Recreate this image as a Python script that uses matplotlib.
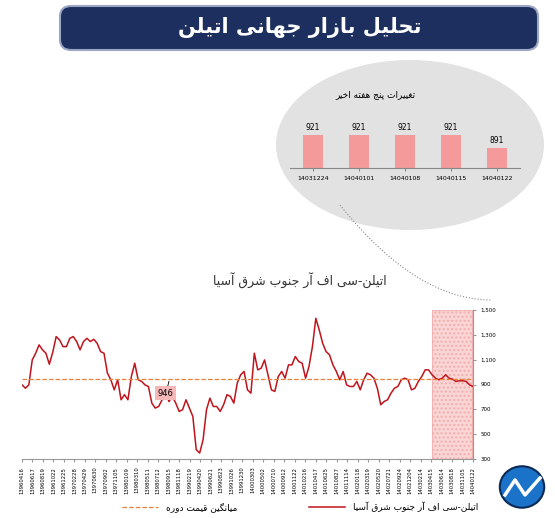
import matplotlib.pyplot as plt
import numpy as np
from matplotlib.patches import FancyBboxPatch, Circle, Ellipse

plt.rcParams['font.family'] = ['DejaVu Sans', 'Noto Sans']

# ---- minimal Persian shaping (matplotlib does not join Arabic letters) ----
FORMS = {  # isolated, final, initial, medial
    'ا': (0xFE8D, 0xFE8E), 'آ': (0xFE81, 0xFE82), 'د': (0xFEA9, 0xFEAA),
    'ذ': (0xFEAB, 0xFEAC), 'ر': (0xFEAD, 0xFEAE), 'ز': (0xFEAF, 0xFEB0),
    'و': (0xFEED, 0xFEEE), 'ژ': (0xFB8A, 0xFB8B),
    'ب': (0xFE8F, 0xFE90, 0xFE91, 0xFE92), 'ت': (0xFE95, 0xFE96, 0xFE97, 0xFE98),
    'ج': (0xFE9D, 0xFE9E, 0xFE9F, 0xFEA0), 'ح': (0xFEA1, 0xFEA2, 0xFEA3, 0xFEA4),
    'خ': (0xFEA5, 0xFEA6, 0xFEA7, 0xFEA8), 'س': (0xFEB1, 0xFEB2, 0xFEB3, 0xFEB4),
    'ش': (0xFEB5, 0xFEB6, 0xFEB7, 0xFEB8), 'ع': (0xFEC9, 0xFECA, 0xFECB, 0xFECC),
    'غ': (0xFECD, 0xFECE, 0xFECF, 0xFED0), 'ف': (0xFED1, 0xFED2, 0xFED3, 0xFED4),
    'ق': (0xFED5, 0xFED6, 0xFED7, 0xFED8), 'ل': (0xFEDD, 0xFEDE, 0xFEDF, 0xFEE0),
    'م': (0xFEE1, 0xFEE2, 0xFEE3, 0xFEE4), 'ن': (0xFEE5, 0xFEE6, 0xFEE7, 0xFEE8),
    'ه': (0xFEE9, 0xFEEA, 0xFEEB, 0xFEEC), 'پ': (0xFB56, 0xFB57, 0xFB58, 0xFB59),
    'چ': (0xFB7A, 0xFB7B, 0xFB7C, 0xFB7D), 'ک': (0xFB8E, 0xFB8F, 0xFB90, 0xFB91),
    'گ': (0xFB92, 0xFB93, 0xFB94, 0xFB95), 'ی': (0xFBFC, 0xFBFD, 0xFBFE, 0xFBFF),
}


def fa(s):
    out = []
    for i, c in enumerate(s):
        if c not in FORMS:
            out.append(c)
            continue
        prev = s[i - 1] if i > 0 else ''
        nxt = s[i + 1] if i + 1 < len(s) else ''
        jp = prev in FORMS and len(FORMS[prev]) == 4
        jn = len(FORMS[c]) == 4 and nxt in FORMS
        f = FORMS[c]
        if jp and jn:
            code = f[3]
        elif jp:
            code = f[1]
        elif jn:
            code = f[2]
        else:
            code = f[0]
        out.append(chr(code))
    return ''.join(out)[::-1]


# ---- data ----
prices = [897, 870, 897, 1098, 1152, 1219, 1179, 1152, 1063, 1160, 1286, 1259, 1205, 1205,
          1272, 1286, 1246, 1179, 1246, 1272, 1246, 1264, 1232, 1165, 1152, 991, 938, 857,
          938, 777, 818, 777, 964, 1071, 938, 925, 897, 884, 750, 710, 723, 777, 844, 763,
          804, 750, 683, 697, 777, 710, 643, 375, 348, 455, 697, 790, 723, 723, 683, 737,
          818, 804, 750, 911, 978, 1005, 857, 830, 1152, 1018, 1031, 1098, 978, 857, 844,
          964, 1005, 951, 1058, 1058, 1125, 1085, 1071, 951, 1045, 1205, 1433, 1339, 1232,
          1165, 1139, 1058, 1005, 938, 1005, 897, 884, 884, 925, 857, 938, 991, 978, 951,
          870, 737, 763, 777, 830, 870, 884, 938, 951, 938, 857, 870, 925, 964, 1018, 1018,
          978, 951, 938, 951, 978, 951, 943, 925, 930, 930, 925, 897, 884]
avg_price = 946

date_labels = ['13960416', '13960617', '13960819', '13961022', '13961225', '13970228',
               '13970429', '13970630', '13970902', '13971105', '13980109', '13980310',
               '13980511', '13980712', '13980915', '13981118', '13990219', '13990420',
               '13990621', '13990823', '13991026', '13991230', '14000303', '14000502',
               '14000710', '14000912', '14001122', '14010216', '14010417', '14010625',
               '14010827', '14011114', '14020118', '14020319', '14020520', '14020721',
               '14020924', '14021204', '14030214', '14030415', '14030614', '14030818',
               '14031105', '14040122']

week_dates = ['14031224', '14040101', '14040108', '14040115', '14040122']
week_prices = [921, 921, 921, 921, 891]

red = '#c0141c'
orange = '#e8803a'
navy = '#1d2f5e'

fig = plt.figure(figsize=(5.55, 5.18), dpi=100)

# ---- title banner ----
fig.patches.append(FancyBboxPatch((60 / 555, 1 - 50 / 518), 478 / 555, 44 / 518,
                                  boxstyle='round,pad=0,rounding_size=0.02',
                                  transform=fig.transFigure, facecolor=navy,
                                  edgecolor='#9aa6c4', linewidth=1.5))
fig.text(300 / 555, 1 - 27 / 518, fa('تحلیل بازار جهانی اتیلن'), color='white',
         fontsize=15, fontweight='bold', ha='center', va='center')

# ---- grey bubble with last five weeks ----
fig.patches.append(Ellipse((410 / 555, 1 - 145 / 518), 268 / 555, 170 / 518,
                           transform=fig.transFigure, facecolor='#e2e2e2',
                           edgecolor='none', zorder=0))
fig.text(375 / 555, 1 - 95 / 518, fa('تغییرات پنج هفته اخیر'), fontsize=6.5,
         ha='center', va='center')
bx = fig.add_axes([290 / 555, 1 - 168 / 518, 230 / 555, 50 / 518], zorder=3)
bx.patch.set_alpha(0)
pos = np.arange(len(week_prices))
bx.bar(pos, week_prices, width=0.45, color='#f49a9a')
for p, v in zip(pos, week_prices):
    bx.text(p, v + 6, str(v), ha='center', va='bottom', fontsize=5.5)
bx.set_ylim(845, 960)
bx.set_xlim(-0.5, len(week_prices) - 0.5)
bx.set_xticks(pos)
bx.set_xticklabels(week_dates, fontsize=4.5)
bx.set_yticks([])
for side in ['left', 'right', 'top']:
    bx.spines[side].set_visible(False)
bx.spines['bottom'].set_color('#888888')
bx.tick_params(axis='x', length=2, color='#888888', pad=4)

# ---- main chart ----
ax = fig.add_axes([22 / 555, 1 - 459 / 518, 451 / 555, 149 / 518])
x = np.arange(len(prices))
ax.plot(x, prices, color=red, linewidth=1.1, label=fa('اتیلن-سی اف آر جنوب شرق آسیا'))
ax.axhline(avg_price, color=orange, linestyle='--', linewidth=0.9,
           label=fa('میانگین قیمت دوره'))
ax.plot([x[-1], x[-1]], [300, prices[-1]], color=orange, linestyle='--', linewidth=0.9)
ax.axvspan(len(prices) * 0.902, x[-1] - 0.3, facecolor='#f8c4c4', edgecolor='#f0a0a0',
           linewidth=0.8, hatch='....', alpha=0.7)
ax.set_xlim(0, x[-1])
ax.set_ylim(300, 1500)
ax.yaxis.tick_right()
ax.set_yticks(range(300, 1501, 200))
ax.set_yticklabels([f'{v:,}' for v in range(300, 1501, 200)], fontsize=4)
tick_pos = np.linspace(0, x[-1], len(date_labels))
ax.set_xticks(tick_pos)
ax.set_xticklabels(date_labels, rotation=90, fontsize=3.8)
ax.tick_params(axis='x', length=2, color='#999999')
ax.tick_params(axis='y', length=2, color='#999999')
for side in ['left', 'top']:
    ax.spines[side].set_visible(False)
ax.spines['right'].set_color('#999999')
ax.spines['bottom'].set_color('#999999')
ax.text(x[42], 830, str(avg_price), fontsize=6, ha='center', va='center',
        bbox=dict(facecolor='#f4b8b8', edgecolor='none', pad=2))
ax.plot([x[42] + 0.6, x[43]], [880, 925], color='black', linewidth=0.6)

h, l = ax.get_legend_handles_labels()
fig.legend([h[1], h[0]], [l[1], l[0]], loc='center', bbox_to_anchor=(300 / 555, 1 - 507 / 518),
           ncol=2, frameon=False, fontsize=6.5, columnspacing=8, handlelength=4)

# ---- series label and connector ----
fig.text(300 / 555, 1 - 281 / 518, fa('اتیلن-سی اف آر جنوب شرق آسیا'), fontsize=9,
         ha='center', va='center', color='#333333')
t = np.linspace(0, 1, 40)
cx = 340 + (492 - 340) * t
cy = 205 + (300 - 205) * (1 - (1 - t) ** 2)
fig.lines.append(plt.Line2D(cx / 555, 1 - cy / 518, transform=fig.transFigure,
                            color='#888888', linestyle=':', linewidth=0.8))

# ---- logo ----
fig.patches.append(Circle((522 / 555, 1 - 487 / 518), 0.04, transform=fig.transFigure,
                          facecolor='#1a73c9', edgecolor='#0a2a55', linewidth=1.5))
fig.lines.append(plt.Line2D(np.array([505, 515, 525, 540]) / 555,
                            1 - np.array([495, 480, 495, 478]) / 518,
                            transform=fig.transFigure, color='white', linewidth=2.5))

fig.savefig('out.png', dpi=100)
